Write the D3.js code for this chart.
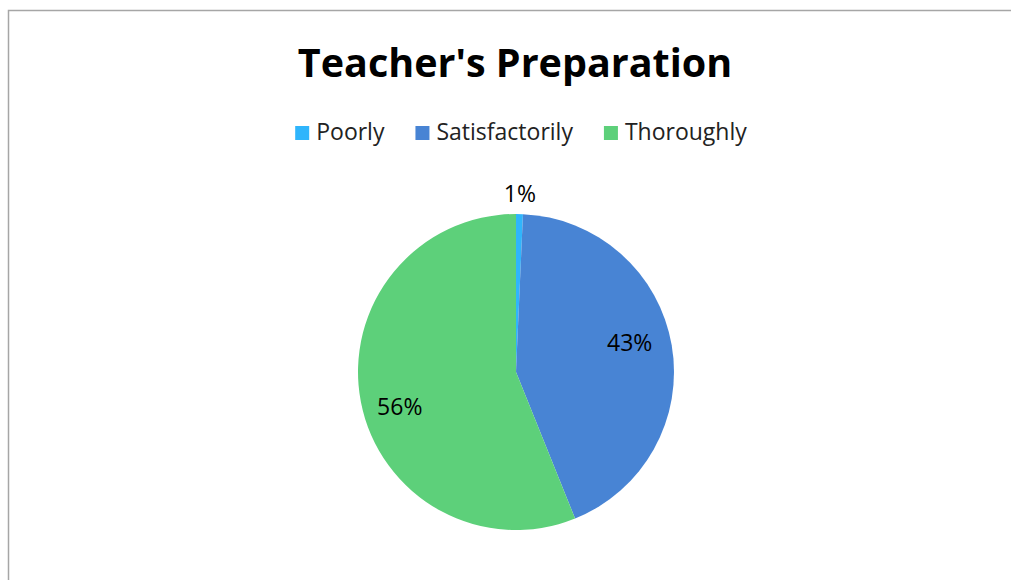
<!DOCTYPE html>
<html>
<head>
<meta charset="utf-8">
<script src="https://cdn.jsdelivr.net/npm/d3@7"></script>
<style>
  body { margin: 0; background: #fff; }
  svg { display: block; }
</style>
</head>
<body>
<div id="chart"></div>
<script>
const categories = ['Poorly', 'Satisfactorily', 'Thoroughly'];
const values = [0.7, 43.2, 56.1];
const labels = ['1%', '43%', '56%'];
const colors = ['#2fb5fc', '#4884d4', '#5dd07a'];

const width = 1011, height = 580;
const font = 'Open Sans, Lato, sans-serif';

const svg = d3.select('#chart').append('svg')
	.attr('width', width)
	.attr('height', height);

// chart frame (only left and top edges fall inside the window)
svg.append('rect')
	.attr('x', 8.5).attr('y', 10.5)
	.attr('width', 1020).attr('height', 600)
	.attr('fill', 'none')
	.attr('stroke', '#a6a6a6')
	.attr('stroke-width', 1.5);

svg.append('text')
	.attr('x', 515).attr('y', 77)
	.attr('text-anchor', 'middle')
	.attr('font-family', font)
	.attr('font-weight', 'bold')
	.attr('font-size', 39.5)
	.attr('fill', '#000')
	.text("Teacher's Preparation");

// legend
let legend = svg.append('g');
let items = legend.selectAll('g').data(categories).enter().append('g');
items.append('rect')
	.attr('width', 14).attr('height', 14)
	.attr('y', -14)
	.attr('fill', (d, i) => colors[i]);
items.append('text')
	.attr('x', 21).attr('y', 0)
	.attr('font-family', font)
	.attr('font-size', 23)
	.attr('fill', '#222')
	.text(d => d);

let xpos = 0;
items.each(function() {
	let w = 21 + d3.select(this).select('text').node().getComputedTextLength();
	d3.select(this).attr('transform', `translate(${xpos},0)`);
	xpos += w + 31;
});
let total = xpos - 31;
legend.attr('transform', `translate(${521 - total / 2},140)`);

// pie
const r = 158;
const cx = 516, cy = 372;
let pie = d3.pie().sort(null).value(d => d);
let arc = d3.arc().innerRadius(0).outerRadius(r);
let arcs = pie(values);

let pieGroup = svg.append('g').attr('transform', `translate(${cx},${cy})`);
pieGroup.selectAll('path')
	.data(arcs)
	.enter().append('path')
	.attr('d', arc)
	.attr('fill', (d, i) => colors[i]);

// data labels: small slice label sits outside, others inside with a nudge
let labelArc = d3.arc().innerRadius(r * 0.73).outerRadius(r * 0.73);
let outerArc = d3.arc().innerRadius(r + 20).outerRadius(r + 20);
let nudge = [[0, 0], [0, -10], [-3, 13]];
let labelPos = arcs.map((d, i) => {
	let c = i === 0 ? outerArc.centroid(d) : labelArc.centroid(d);
	return [c[0] + nudge[i][0], c[1] + nudge[i][1]];
});
pieGroup.selectAll('text.lbl')
	.data(arcs)
	.enter().append('text')
	.attr('class', 'lbl')
	.attr('x', (d, i) => labelPos[i][0])
	.attr('y', (d, i) => labelPos[i][1])
	.attr('dy', '0.35em')
	.attr('text-anchor', 'middle')
	.attr('font-family', font)
	.attr('font-size', 23)
	.attr('fill', '#000')
	.text((d, i) => labels[i]);
</script>
</body>
</html>
